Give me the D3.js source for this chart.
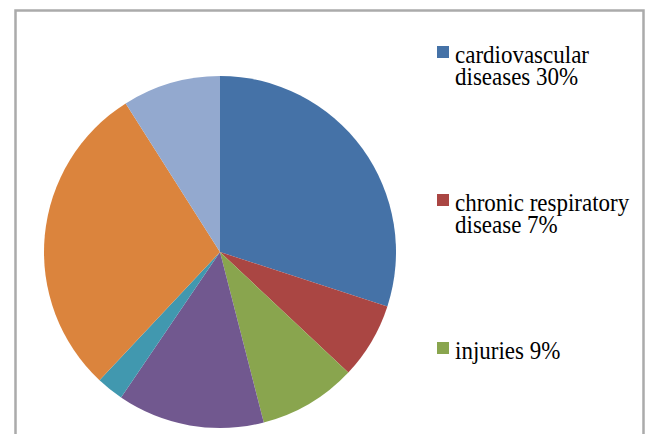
<!DOCTYPE html>
<html>
<head>
<meta charset="utf-8">
<script src="https://cdn.jsdelivr.net/npm/d3@7"></script>
</head>
<body style="margin:0;background:#fff">
<svg id="chart" width="651" height="434"></svg>
<script>
const categories = ["cardiovascular diseases", "chronic respiratory disease", "injuries", "cancers", "diabetes", "communicable diseases", "other NCDs"];
const values = [30, 7, 9, 13.5, 2.5, 29, 9];
const colors = ["#4572A7", "#AA4643", "#89A54E", "#71588F", "#4198AF", "#DB843D", "#93A9CF"];
const legendLines = [["cardiovascular", "diseases 30%"], ["chronic respiratory", "disease 7%"], ["injuries 9%"]];

const svg = d3.select("#chart");

// frame (bottom cut off)
svg.append("path")
  .attr("d", "M15.5,440 L15.5,10.5 L643.5,10.5 L643.5,440")
  .attr("fill", "none").attr("stroke", "#ababab").attr("stroke-width", 2.5);

const cx = 220, cy = 252, r = 176;
const pie = d3.pie().sort(null).value(d => d);
const arc = d3.arc().innerRadius(0).outerRadius(r);
const color = d3.scaleOrdinal().domain(categories).range(colors);

svg.append("g").attr("transform", `translate(${cx},${cy})`)
  .selectAll("path").data(pie(values)).join("path")
  .attr("d", arc)
  .attr("fill", (d, i) => color(categories[i]));

// legend (only first three visible)
const legendY = d3.scalePoint().domain([0, 1, 2]).range([46, 342]);
legendLines.forEach((lines, i) => {
  const y0 = legendY(i);
  svg.append("rect").attr("x", 437).attr("y", y0).attr("width", 12).attr("height", 12)
    .attr("fill", color(categories[i]));
  lines.forEach((ln, j) => {
    svg.append("text")
      .attr("font-size", 23)
      .attr("font-family", "Liberation Serif")
      .style("font-family", "'Liberation Serif', serif", "important")
      .attr("transform", `translate(455,${y0 + 17 + j * 22}) scale(1,1.08)`)
      .text(ln);
  });
});
</script>
</body>
</html>
